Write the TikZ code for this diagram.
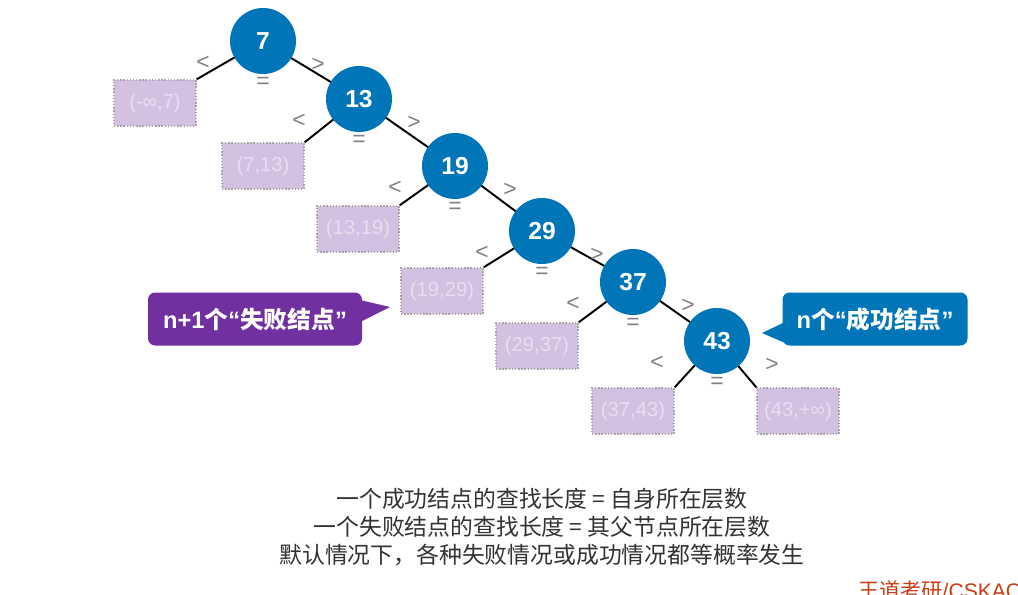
\documentclass[tikz,border=0pt]{standalone}
\usepackage{fontspec}
\setmainfont{Liberation Sans}
\newfontfamily\cjk{Noto Sans CJK SC}
\usetikzlibrary{calc}
\definecolor{nodeblue}{RGB}{0,117,184}
\definecolor{failfill}{RGB}{212,192,224}
\definecolor{failtext}{RGB}{232,222,240}
\definecolor{tipgray}{RGB}{130,130,130}
\definecolor{callpurple}{RGB}{112,48,160}
\definecolor{wdred}{RGB}{200,60,20}
\tikzset{
  key/.style={circle,fill=nodeblue,minimum size=66*0.02cm,inner sep=0pt,text=white,font=\fontsize{14}{16}\selectfont\bfseries},
  fail/.style={rectangle,fill=failfill,draw=gray!70,densely dotted,line width=0.8pt,minimum width=82*0.02cm,minimum height=46*0.02cm,text=failtext,font=\fontsize{11.5}{13}\selectfont},
  rel/.style={text=tipgray,font=\fontsize{13}{15}\selectfont,inner sep=0pt},
  callout/.style={rounded corners=4pt,text=white,minimum height=53*0.02cm,font=\fontsize{13.5}{15}\selectfont\bfseries},
  edge/.style={line width=1.1pt}
}
\begin{document}
\begin{tikzpicture}[x=0.02cm,y=-0.02cm]
\useasboundingbox (0,0) rectangle (1018,595);
% key nodes
\foreach \n/\x/\y in {7/263/41,13/359/99,19/455/166,29/542/231,37/633/282,43/717/341}{
  \coordinate (p\n) at (\x,\y);
}
% failure nodes
\node[fail] (f1) at (155,103) {(-∞,7)};
\node[fail] (f2) at (263,166) {(7,13)};
\node[fail] (f3) at (358,229) {(13,19)};
\node[fail] (f4) at (442,291) {(19,29)};
\node[fail] (f5) at (537,346) {(29,37)};
\node[fail] (f6) at (633,411) {(37,43)};
\node[fail] (f7) at (798,411) {(43,+∞)};
% edges
\draw[edge] (p7) -- (f1.north east);
\draw[edge] (p13) -- (f2.north east);
\draw[edge] (p19) -- (f3.north east);
\draw[edge] (p29) -- (f4.north east);
\draw[edge] (p37) -- (f5.north east);
\draw[edge] (p43) -- (f6.north east);
\draw[edge] (p43) -- (f7.north west);
\draw[edge] (p7) -- (p13) -- (p19) -- (p29) -- (p37) -- (p43);
\foreach \n in {7,13,19,29,37,43}{
  \node[key] (k\n) at (p\n) {\n};
  \node[rel] at ($(p\n)+(-60,22)$) {<};
  \node[rel] at ($(p\n)+(55,24)$) {>};
  \node[rel] at ($(p\n)+(0,42)$) {=};
}
% callouts
\fill[callpurple] (360,300) -- (390,307) -- (360,322) -- cycle;
\node[callout,fill=callpurple,minimum width=214*0.02cm] (cfail) at (255,319) {n+1{\cjk 个}“{\cjk 失败结点}”};
\fill[nodeblue] (785,322) -- (762,333) -- (785,343) -- cycle;
\node[callout,fill=nodeblue,minimum width=185*0.02cm] (csucc) at (875,319) {n{\cjk 个}“{\cjk 成功结点}”};
% notes
\node[font=\fontsize{13}{15}\selectfont\cjk,text=black!80,align=center] (note) at (542,527) {一个成功结点的查找长度 = 自身所在层数\\[1pt]一个失败结点的查找长度 = 其父节点所在层数\\[1pt]默认情况下，各种失败情况或成功情况都等概率发生};
\node[font=\fontsize{12}{14}\selectfont,text=wdred,anchor=west,inner sep=0pt] (brand) at (858,590) {{\cjk 王道考研}/CSKAOYAN};
\end{tikzpicture}
\end{document}
